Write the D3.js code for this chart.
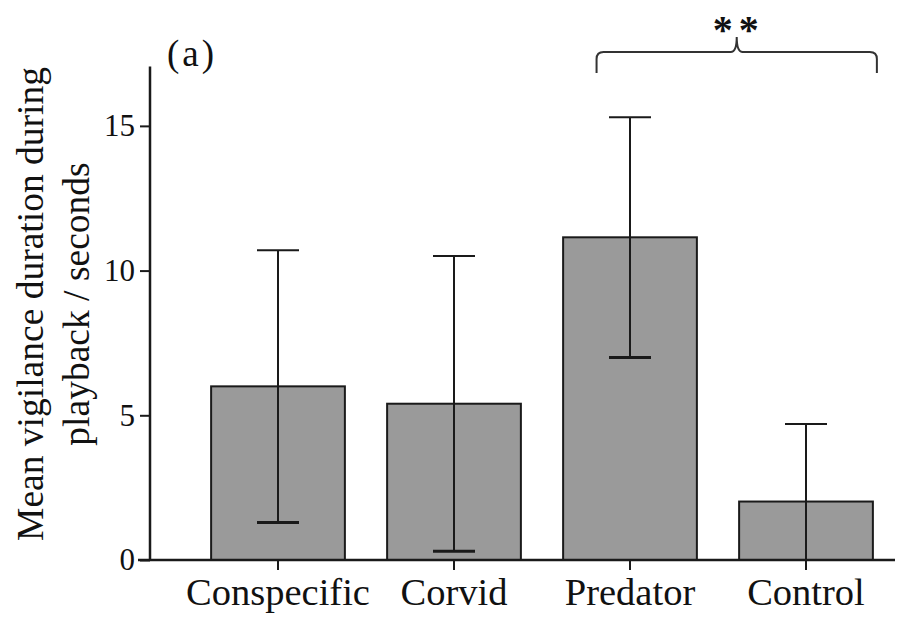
<!DOCTYPE html>
<html>
<head>
<meta charset="utf-8">
<script src="https://cdn.jsdelivr.net/npm/d3@7"></script>
<style>
  html, body { margin: 0; padding: 0; background: #fff; }
  svg { display: block; }
  text { font-family: "Liberation Serif", "Times New Roman", serif; fill: #111; }
</style>
</head>
<body>
<svg id="chart" width="898" height="621"></svg>
<script>
const categories = ["Conspecific", "Corvid", "Predator", "Control"];
const means = [6.0, 5.4, 11.15, 2.02];
const sds = [4.7, 5.1, 4.15, 2.68];
const yTicks = [0, 5, 10, 15];
const yDomain = [0, 17];
const panelLabel = "(a)";
const sigLabel = "**";
const sigPair = ["Predator", "Control"];
const yTitle = ["Mean vigilance duration during", "playback / seconds"];

const svg = d3.select("#chart");
const x = d3.scaleBand().domain(categories).range([190, 894]).paddingInner(0.24).paddingOuter(0.12);
const y = d3.scaleLinear().domain(yDomain).range([560, 68]);

// bars
svg.append("g").selectAll("rect").data(categories).join("rect")
  .attr("x", d => x(d))
  .attr("y", (d, i) => y(means[i]))
  .attr("width", x.bandwidth())
  .attr("height", (d, i) => y(0) - y(means[i]))
  .attr("fill", "#9a9a9a")
  .attr("stroke", "#1a1a1a")
  .attr("stroke-width", 2);

// error bars
const eb = svg.append("g").attr("stroke", "#1a1a1a").attr("stroke-width", 2);
categories.forEach((c, i) => {
  const cx = x(c) + x.bandwidth() / 2;
  const lo = Math.max(0, means[i] - sds[i]);
  const hi = means[i] + sds[i];
  eb.append("line").attr("x1", cx).attr("x2", cx).attr("y1", y(lo)).attr("y2", y(hi));
  eb.append("line").attr("x1", cx - 21).attr("x2", cx + 21).attr("y1", y(hi)).attr("y2", y(hi));
  if (means[i] - sds[i] > 0) {
    eb.append("line").attr("x1", cx - 21).attr("x2", cx + 21).attr("y1", y(lo)).attr("y2", y(lo)).attr("stroke-width", 3);
  }
});

// y axis
const yAxis = svg.append("g").attr("transform", "translate(150,0)")
  .call(d3.axisLeft(y).tickValues(yTicks).tickSize(10).tickPadding(5).tickSizeOuter(0));
yAxis.select(".domain").attr("stroke", "#1a1a1a").attr("stroke-width", 2.5)
  .attr("d", `M0,${y(0)}V${y(17.05)}`);
yAxis.selectAll(".tick line").attr("stroke", "#1a1a1a").attr("stroke-width", 2);
yAxis.selectAll(".tick text").attr("font-size", 31).attr("font-family", "Liberation Serif").attr("fill", "#111");

// x axis
const xAxis = svg.append("g").attr("transform", `translate(0,${y(0)})`)
  .call(d3.axisBottom(x).tickSize(10).tickPadding(8).tickSizeOuter(0));
xAxis.select(".domain").attr("stroke", "#1a1a1a").attr("stroke-width", 2.5).attr("d", "M138,0H895");
xAxis.selectAll(".tick line").attr("stroke", "#1a1a1a").attr("stroke-width", 2);
xAxis.selectAll(".tick text").attr("font-size", 38.5).attr("font-family", "Liberation Serif").attr("fill", "#111");

// y title
const yt = svg.append("text").attr("transform", "translate(43,304) rotate(-90)")
  .attr("text-anchor", "middle").attr("font-size", 37.5);
yt.append("tspan").attr("x", 0).attr("y", 0).text(yTitle[0]);
yt.append("tspan").attr("x", 0).attr("y", 46).text(yTitle[1]);

// panel label
svg.append("text").attr("x", 167).attr("y", 66).attr("font-size", 37).attr("letter-spacing", 3).text(panelLabel);

// significance bracket
const bx0 = x(sigPair[0]) + x.bandwidth() * 0.25;
const bx1 = x(sigPair[1]) + x.bandwidth() + 4;
const bm = (bx0 + bx1) / 2;
const by = 52, byEnd = 73, byPeak = 37, r = 7;
const p = d3.path();
p.moveTo(bx0, byEnd);
p.lineTo(bx0, by + r);
p.quadraticCurveTo(bx0, by, bx0 + r, by);
p.lineTo(bm - 6, by);
p.quadraticCurveTo(bm, by, bm, byPeak);
p.quadraticCurveTo(bm, by, bm + 6, by);
p.lineTo(bx1 - r, by);
p.quadraticCurveTo(bx1, by, bx1, by + r);
p.lineTo(bx1, byEnd);
svg.append("path").attr("d", p.toString()).attr("fill", "none").attr("stroke", "#333").attr("stroke-width", 2);
svg.append("text").attr("x", bm + 2).attr("y", 43).attr("text-anchor", "middle")
  .attr("font-size", 40).attr("font-weight", "bold").attr("letter-spacing", 6).text(sigLabel);
</script>
</body>
</html>
